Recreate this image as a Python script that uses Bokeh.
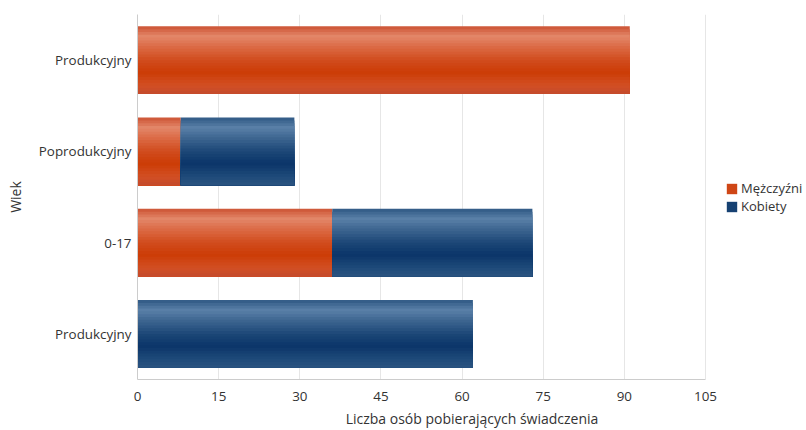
from bokeh.plotting import figure
from bokeh.models import (ColumnDataSource, FixedTicker, Legend, LegendItem,
                          Range1d)
from bokeh.embed import file_html
from bokeh.resources import INLINE

# ---- data (top to bottom as in the chart) ----
categories = ["Produkcyjny", "Poprodukcyjny", "0-17", "Produkcyjny"]
men = [91, 8, 36, 0]
women = [0, 21, 37, 62]
x_ticks = [0, 15, 30, 45, 60, 75, 90, 105]
x_max = 105
series_names = ["Mężczyźni", "Kobiety"]

n = len(categories)
ypos = [n - 0.5 - i for i in range(n)]
men_right = men
women_left = men
women_right = [m + w for m, w in zip(men, women)]

FONT = "Open Sans"
TXT = "#333333"

W, H = 806, 430
LEFT = 137
AXIS_PX = 568  # pixel length of 0..105
x_end = x_max * (W - LEFT) / AXIS_PX

p = figure(width=W, height=H, output_backend="svg", toolbar_location=None,
           x_range=Range1d(0, x_end), y_range=Range1d(0, n),
           min_border_left=LEFT, min_border_right=0, min_border_top=14,
           min_border_bottom=49)
p.outline_line_color = None
p.background_fill_color = "white"

def hex2rgb(h):
    h = h.lstrip("#")
    return [int(h[i:i + 2], 16) for i in (0, 2, 4)]

def interp(stops, t):
    for (t0, c0), (t1, c1) in zip(stops, stops[1:]):
        if t0 <= t <= t1:
            f = 0 if t1 == t0 else (t - t0) / (t1 - t0)
            a, b = hex2rgb(c0), hex2rgb(c1)
            return "#%02x%02x%02x" % tuple(int(round(a[k] + (b[k] - a[k]) * f)) for k in range(3))
    return stops[-1][1]

orange_stops = [(0, "#cc5333"), (0.15, "#e3876a"), (0.3, "#dc6b46"), (0.5, "#d14c1e"),
                (0.68, "#cc3c06"), (0.88, "#d24f24"), (1.0, "#c44a2c")]
blue_stops = [(0, "#2f5884"), (0.15, "#5a80a8"), (0.3, "#3e6691"), (0.5, "#1c4777"),
              (0.68, "#0b3569"), (0.88, "#1f4b7a"), (1.0, "#2b5380")]

bar_h = 0.74
N = 24
sh = bar_h / N
legend_refs = {}
for name, left, right, stops in [(series_names[0], [0] * n, men_right, orange_stops),
                                 (series_names[1], women_left, women_right, blue_stops)]:
    for i in range(N):
        t = (i + 0.5) / N
        top_off = bar_h / 2 - i * sh
        hh = bar_h - i * sh
        yc = [y + top_off - hh / 2 for y in ypos]
        src = ColumnDataSource(dict(y=yc, left=left, right=right))
        r = p.hbar(y="y", left="left", right="right", height=hh, source=src,
                   fill_color=interp(stops, t), line_color=None)
        if i == int(N * 0.55):
            legend_refs[name] = r

# grid & axes
p.ygrid.grid_line_color = None
p.xgrid.grid_line_color = "#e6e6e6"
p.xgrid.ticker = FixedTicker(ticks=x_ticks)
p.xaxis.ticker = FixedTicker(ticks=x_ticks)
p.xaxis.bounds = (0, x_max)
p.yaxis.ticker = FixedTicker(ticks=ypos)
p.yaxis.major_label_overrides = {y: c for y, c in zip(ypos, categories)}

for ax in (p.xaxis, p.yaxis):
    ax.axis_line_color = "#cccccc"
    ax.major_tick_line_color = None
    ax.minor_tick_line_color = None
    ax.major_label_text_font = FONT
    ax.major_label_text_font_size = "13.4px"
    ax.major_label_text_color = TXT
    ax.axis_label_text_font = FONT
    ax.axis_label_text_font_size = "14px"
    ax.axis_label_text_font_style = "normal"
    ax.axis_label_text_color = TXT

p.xaxis.axis_label = "Liczba osób pobierających świadczenia"
p.yaxis.axis_label = "Wiek"
p.xaxis.major_label_standoff = 6
p.xaxis.axis_label_standoff = 5
p.yaxis.major_tick_out = 0
p.yaxis.major_tick_in = 0
p.yaxis.major_label_standoff = 6
p.yaxis.axis_label_standoff = 11

legend = Legend(items=[LegendItem(label=nm, renderers=[legend_refs[nm]]) for nm in series_names],
                location=(588, 164), border_line_color=None, background_fill_alpha=0,
                padding=0, spacing=-5, margin=0, glyph_width=13, glyph_height=13,
                label_standoff=3, label_text_font=FONT, label_text_font_size="13px",
                label_text_line_height=1.0,
                label_text_color=TXT, label_height=13)
p.add_layout(legend, "center")

open("out.html", "w").write(file_html(p, INLINE))
